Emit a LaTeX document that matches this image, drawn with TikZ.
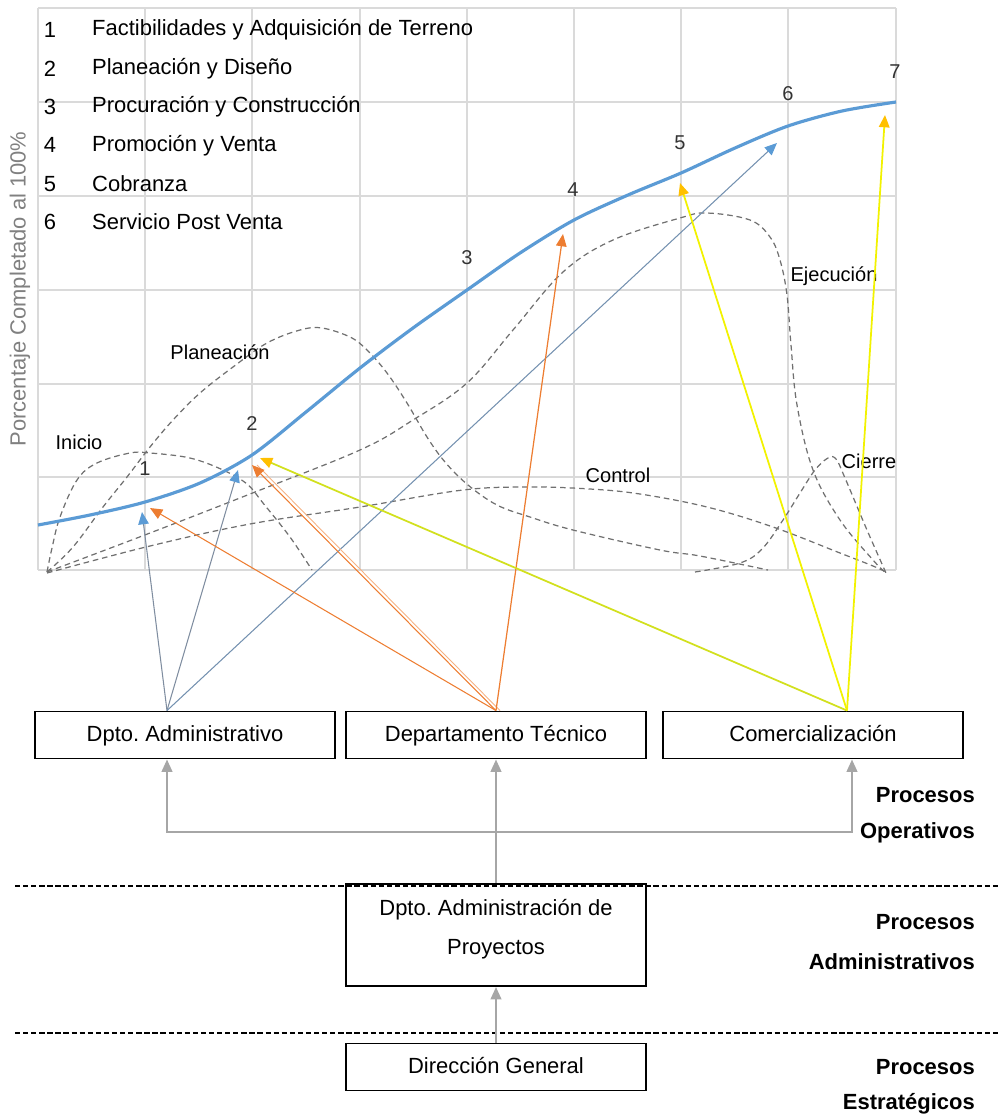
\documentclass[tikz,border=0pt]{standalone}
\usepackage{fontspec}
\setmainfont{Liberation Sans}
\usetikzlibrary{arrows.meta}

\definecolor{curveblue}{HTML}{5B9BD5}
\definecolor{gridgray}{HTML}{DADADA}
\definecolor{stagegray}{HTML}{707070}
\definecolor{admline}{HTML}{7F8DA0}
\definecolor{techorange}{HTML}{ED7D31}
\definecolor{comyellow}{HTML}{F2F200}
\definecolor{comgreen}{HTML}{D2E01E}
\definecolor{comtip}{HTML}{FFC000}
\definecolor{feedgray}{HTML}{A6A6A6}

\newcommand{\mainfont}{\fontsize{12.5}{15}\selectfont}
\newcommand{\smallfont}{\fontsize{11.4}{13}\selectfont}

\begin{document}
\frenchspacing
\begin{tikzpicture}[x=0.02cm, y=-0.02cm,
        frame/.style={draw, line width=1.1pt, minimum width=6cm, minimum height=0.94cm, inner sep=0pt, font=\mainfont},
        box/.style={frame, text height=0.77em, text depth=0.05em},
        proc/.style={anchor=east, font=\bfseries\mainfont},
        stage/.style={draw=stagegray, line width=0.7pt, dash pattern=on 3.2pt off 2.2pt},
        feed/.style={draw=feedgray, line width=1.2pt, -{Triangle[length=7pt, width=6pt]}},
        bluetip/.style={-{Triangle[length=7pt, width=6pt, color=curveblue]}},
        orangetip/.style={-{Triangle[length=7pt, width=6pt, color=techorange]}},
        yellowtip/.style={-{Triangle[length=7pt, width=6pt, color=comtip]}}]
        \useasboundingbox (0,0) rectangle (998,1117);

        % grid of the chart
        \foreach \gx in {38,145,252,360,467,574,681,788,896}
            \draw[gridgray, line width=0.8pt] (\gx,8) -- (\gx,570);
        \foreach \gy in {8,102,196,290,384,477,570}
            \draw[gridgray, line width=0.8pt] (38,\gy) -- (896,\gy);

        \node[rotate=90, text=black!50, font=\mainfont] (ylabel) at (20,289) {Porcentaje Completado al 100\%};

        % legend
        \foreach \txt [count=\i] in {Factibilidades y Adquisición de Terreno, Planeación y Diseño,
                Procuración y Construcción, Promoción y Venta, Cobranza, Servicio Post Venta} {
            \pgfmathsetmacro{\ly}{30+38.4*(\i-1)}
            \node[font=\mainfont] (num\i) at (50,\ly) {\i};
            \node[anchor=west, font=\mainfont] (leg\i) at (86,\ly) {\txt};
        }

        % phase curves
        \draw[stage] plot[smooth, tension=0.6] coordinates {(47,572) (52,548) (60,517) (77,480) (97,463) (130,453) (150,453) (190,458) (223,470) (247,484) (263,503) (290,537) (312,570)};
        \draw[stage] plot[smooth, tension=0.6] coordinates {(47,572) (73,547) (103,507) (127,477) (150,447) (173,420) (200,393) (233,367) (267,343) (300,330) (322,328) (350,337) (367,350) (387,373) (407,403) (427,437) (445,462) (468,485) (497,505) (530,517) (573,530) (660,550) (700,556) (768,570)};
        \draw[stage] plot[smooth, tension=0.6] coordinates {(47,572) (150,533) (250,494) (360,450) (413,420) (467,383) (513,330) (563,272) (613,240) (680,218) (707,213) (750,220) (770,237) (780,260) (787,295) (791,345) (797,405) (813,470) (840,520) (873,560) (886,573)};
        \draw[stage] plot[smooth, tension=0.6] coordinates {(47,573) (150,546) (250,524) (360,507) (463,490) (530,487) (590,489) (640,494) (707,507) (773,527) (840,553) (873,566) (886,572)};
        \draw[stage] plot[smooth, tension=0.6] coordinates {(695,572) (740,563) (762,549) (783,520) (800,493) (815,470) (828,458) (836,459) (845,478) (867,530) (886,573)};

        \node[font=\smallfont] (inicio) at (79,442) {Inicio};
        \node[font=\smallfont] (planeacion) at (220,352) {Planeación};
        \node[font=\smallfont] (ejecucion) at (834,276) {Ejecución};
        \node[font=\smallfont] (control) at (618,475) {Control};
        \node[font=\smallfont] (cierre) at (869,461) {Cierre};

        % progress curve
        \draw[curveblue, line width=1.8pt] plot[smooth, tension=0.5] coordinates {(38,525) (90,515) (145,502) (200,483) (252,455) (306,412) (360,368) (413,328) (467,290) (520,253) (574,220) (628,195) (681,173) (735,148) (788,126) (842,111) (896,102)};
        \foreach \px/\py [count=\i] in {145/469, 252/423, 467/258, 573/190, 680/143, 788/94, 895/72}
            \node[font=\smallfont, text=black!80] (p\i) at (\px,\py) {\i};

        % departments
        \node[box] (adm) at (185,735) {Dpto. Administrativo};
        \node[box] (tec) at (496,735) {Departamento Técnico};
        \node[box] (com) at (813,735) {Comercialización};
        \node[frame, minimum height=2.04cm, align=center, font=\fontsize{12.5}{22}\selectfont] (dap) at (496,935) {Dpto. Administración de\\Proyectos\rule[-9pt]{0pt}{9pt}};
        \node[box] (dg) at (496,1067) {Dirección General};

        \draw[line width=0.9pt, dash pattern=on 3pt off 1.6pt] (15,886) -- (998,886);
        \draw[line width=0.9pt, dash pattern=on 3pt off 1.6pt] (15,1033) -- (998,1033);

        \node[proc] (op1) at (981,795) {Procesos};
        \node[proc] (op2) at (981,833) {Operativos};
        \node[proc] (ad1) at (981,922) {Procesos};
        \node[proc] (ad2) at (981,962) {Administrativos};
        \node[proc] (es1) at (981,1067) {Procesos};
        \node[proc] (es2) at (981,1104) {Estratégicos};

        % gray feed arrows
        \coordinate (busY) at (0,832);
        \coordinate (admB) at ([xshift=-0.36cm]adm.south);
        \coordinate (comB) at ([xshift=0.78cm]com.south);
        \draw[feed] (dg.north) -- (dap.south);
        \draw[feed] (dap.north) -- (tec.south);
        \draw[feed] (dap.north |- busY) -| (admB);
        \draw[feed] (dap.north |- busY) -| (comB);

        % colored arrows to the curve
        \coordinate (admT) at ([xshift=-0.36cm]adm.north);
        \coordinate (comT) at ([xshift=0.68cm]com.north);
        \coordinate (a1) at (142,512);
        \coordinate (a2) at (238,470);
        \coordinate (a3) at (777,143);
        \coordinate (o1) at (150,508);
        \coordinate (o2) at (252,465);
        \coordinate (o3) at (563,234);
        \coordinate (y1) at (260,458);
        \coordinate (y2) at (680,183);
        \coordinate (y3) at (885,115);

        \draw[admline, line width=0.6pt, bluetip] (admT) -- (a1);
        \draw[admline, line width=0.6pt, bluetip] (admT) -- (a2);
        \draw[admline!70!curveblue, line width=0.6pt, bluetip] (admT) -- (a3);
        \draw[techorange, line width=0.6pt, orangetip] (tec.north) -- (o1);
        \draw[techorange!60, line width=0.5pt] ([xshift=0.08cm]tec.north) -- ([xshift=0.1cm]o2);
        \draw[techorange, line width=0.6pt, orangetip] (tec.north) -- (o2);
        \draw[techorange, line width=0.7pt, orangetip] (tec.north) -- (o3);
        \draw[comgreen, line width=1pt, yellowtip] (comT) -- (y1);
        \draw[comyellow, line width=1pt, yellowtip] (comT) -- (y2);
        \draw[comyellow, line width=1pt, yellowtip] (comT) -- (y3);
\end{tikzpicture}
\end{document}
